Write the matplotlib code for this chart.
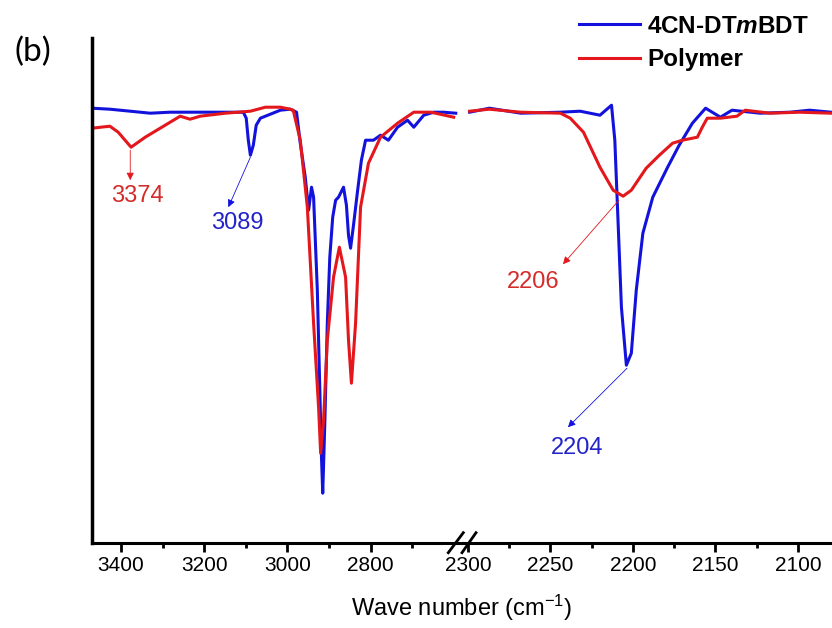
import numpy as np
import matplotlib
matplotlib.use('Agg')
import matplotlib.pyplot as plt
from matplotlib.lines import Line2D

plt.rcParams['font.family'] = ['Liberation Sans', 'DejaVu Sans']
plt.rcParams['mathtext.fontset'] = 'custom'
plt.rcParams['mathtext.rm'] = 'Liberation Sans'
plt.rcParams['mathtext.it'] = 'Liberation Sans:italic:bold'
plt.rcParams['mathtext.bf'] = 'Liberation Sans:bold'

# ---- data (wave number cm-1, transmittance a.u.) ----
# 4CN-DTmBDT, high wave number part
blue_hi_x = [3470, 3427, 3378, 3330, 3282, 3210, 3137, 3106, 3099, 3094, 3089, 3082, 3075,
             3065, 3041, 3017, 2993, 2978, 2969, 2957, 2949, 2942, 2937, 2928, 2923, 2918,
             2915, 2910, 2904, 2898, 2891, 2884, 2877, 2865, 2858, 2853, 2848, 2841, 2831,
             2822, 2812, 2793, 2776, 2757, 2735, 2711, 2696, 2672, 2648, 2624, 2595]
blue_hi_y = [86.9, 86.7, 86.3, 85.9, 86.1, 86.1, 86.1, 86.1, 84.9, 80.5, 77.5, 79.5, 83.5,
             84.9, 85.7, 86.5, 86.7, 86.1, 79.9, 73.1, 66.5, 71.1, 69.1, 50.5, 33.9, 17.1,
             9.9, 23.9, 43.9, 57.1, 65.1, 68.5, 69.1, 71.1, 67.5, 61.5, 58.9, 63.5, 70.5,
             76.5, 80.5, 80.5, 81.5, 80.5, 83.1, 84.5, 83.1, 85.5, 86.1, 86.1, 85.9]
# Polymer, high wave number part
red_hi_x = [3470, 3427, 3407, 3376, 3342, 3294, 3258, 3234, 3210, 3149, 3089, 3053, 3017,
            2993, 2986, 2969, 2952, 2937, 2925, 2920, 2913, 2904, 2889, 2875, 2860, 2853,
            2846, 2836, 2824, 2805, 2776, 2735, 2696, 2655, 2600]
red_hi_y = [82.9, 83.3, 82.1, 79.1, 81.1, 83.5, 85.3, 84.7, 85.3, 85.9, 86.3, 87.1, 87.1,
            86.7, 86.5, 80.5, 67.1, 43.9, 27.1, 17.9, 24.5, 40.5, 53.1, 59.1, 53.1, 40.5,
            31.9, 43.9, 67.1, 75.9, 81.1, 83.9, 86.1, 86.1, 85.1]
# 4CN-DTmBDT, nitrile region
blue_lo_x = [2299, 2287, 2268, 2244, 2232, 2220, 2213, 2211, 2209, 2207, 2204, 2201, 2198,
             2194, 2188, 2179, 2172, 2164, 2156, 2147, 2140, 2123, 2105, 2093, 2080]
blue_lo_y = [86.1, 86.9, 85.9, 86.1, 86.3, 85.5, 87.5, 80.5, 63.9, 47.1, 35.5, 37.9, 50.5,
             61.9, 69.1, 75.1, 79.5, 83.9, 86.9, 85.1, 86.5, 85.9, 86.1, 86.5, 86.1]
# Polymer, nitrile region
red_lo_x = [2299, 2287, 2268, 2244, 2238, 2230, 2220, 2212, 2206, 2201, 2192, 2184, 2176,
            2170, 2161, 2158, 2155, 2147, 2137, 2132, 2117, 2099, 2080]
red_lo_y = [86.3, 86.7, 86.1, 85.9, 84.9, 82.1, 75.1, 70.5, 69.3, 70.5, 74.9, 77.5, 79.9,
            80.5, 81.1, 83.1, 84.9, 84.9, 85.3, 86.5, 85.9, 86.1, 85.9]

hi_major = [3400, 3200, 3000, 2800]
hi_minor = [3300, 3100, 2900, 2700]
lo_major = [2300, 2250, 2200, 2150, 2100]
lo_minor = [2275, 2225, 2175, 2125]

blue = '#1212DC'
red = '#E3171C'
blue_txt = '#2323C8'
red_txt = '#D42B2B'

W, H = 832, 628
fig = plt.figure(figsize=(W / 100, H / 100), dpi=100)

bot = (H - 542.7) / H
hgt = 504.7 / H
ax1 = fig.add_axes([92 / W, bot, 370 / W, hgt])
ax2 = fig.add_axes([462 / W, bot, 370 / W, hgt])

ax1.plot(blue_hi_x, blue_hi_y, color=blue, lw=2.2, label='4CN-DT$\\mathit{m}$BDT')
ax1.plot(red_hi_x, red_hi_y, color=red, lw=2.2, label='Polymer')
ax2.plot(blue_lo_x, blue_lo_y, color=blue, lw=2.2)
ax2.plot(red_lo_x, red_lo_y, color=red, lw=2.2)

ax1.set_xlim(3470, 2580)
ax2.set_xlim(2303.6, 2079.4)
for ax in (ax1, ax2):
    ax.set_ylim(0, 100.94)
    ax.set_yticks([])
    ax.spines['top'].set_visible(False)
    ax.spines['right'].set_visible(False)
    ax.spines['bottom'].set_linewidth(2.2)
    ax.tick_params(axis='x', which='major', length=6.5, width=2, pad=3, labelsize=15)
    ax.tick_params(axis='x', which='minor', length=3.5, width=2)
    ax.patch.set_alpha(0)
ax1.spines['left'].set_linewidth(2.5)
ax2.spines['left'].set_visible(False)
ax1.set_xticks(hi_major)
ax1.set_xticks(hi_minor, minor=True)
ax2.set_xticks(lo_major)
ax2.set_xticks(lo_minor, minor=True)

# peak labels
arrow_kw = dict(arrowstyle='-|>', lw=0.6, mutation_scale=11, shrinkA=0, shrinkB=0)
ax1.annotate('', xy=(3378, 72.5), xytext=(3378, 78.5),
             arrowprops=dict(color=red, **arrow_kw))
ax1.text(3362, 69.3, '3374', color=red_txt, fontsize=17, ha='center', va='center')
ax1.annotate('', xy=(3142, 67.1), xytext=(3089, 77.1),
             arrowprops=dict(color=blue, **arrow_kw))
ax1.text(3120, 63.9, '3089', color=blue_txt, fontsize=17, ha='center', va='center')
ax2.annotate('', xy=(2242.4, 55.7), xytext=(2208.5, 68.5),
             arrowprops=dict(color=red, **arrow_kw))
ax2.text(2260.6, 52.1, '2206', color=red_txt, fontsize=17, ha='center', va='center')
ax2.annotate('', xy=(2239.4, 23.1), xytext=(2203.6, 34.9),
             arrowprops=dict(color=blue, **arrow_kw))
ax2.text(2233.9, 18.9, '2204', color=blue_txt, fontsize=17, ha='center', va='center')

# axis break marks
for x0, x1 in [(448.3, 463.3), (462.0, 476.0)]:
    fig.add_artist(Line2D([x0 / W, x1 / W], [(H - 552.7) / H, (H - 532.7) / H],
                          color='black', lw=2, transform=fig.transFigure))

fig.text(462 / W, (H - 608) / H, 'Wave number (cm$^{-1}$)', fontsize=17,
         ha='center', va='center')
fig.text(33 / W, (H - 52) / H, '(b)', fontsize=24, ha='center', va='center',
         family=['Lato', 'DejaVu Sans'])

h, l = ax1.get_legend_handles_labels()
fig.legend(h, l, loc='upper left', bbox_to_anchor=(579 / W, 1 - 15 / H), frameon=False,
           borderpad=0, borderaxespad=0, handlelength=2.5, handletextpad=0.3,
           labelspacing=0.42, prop=dict(weight='bold', size=17.5))

fig.savefig('out.png', dpi=100)
